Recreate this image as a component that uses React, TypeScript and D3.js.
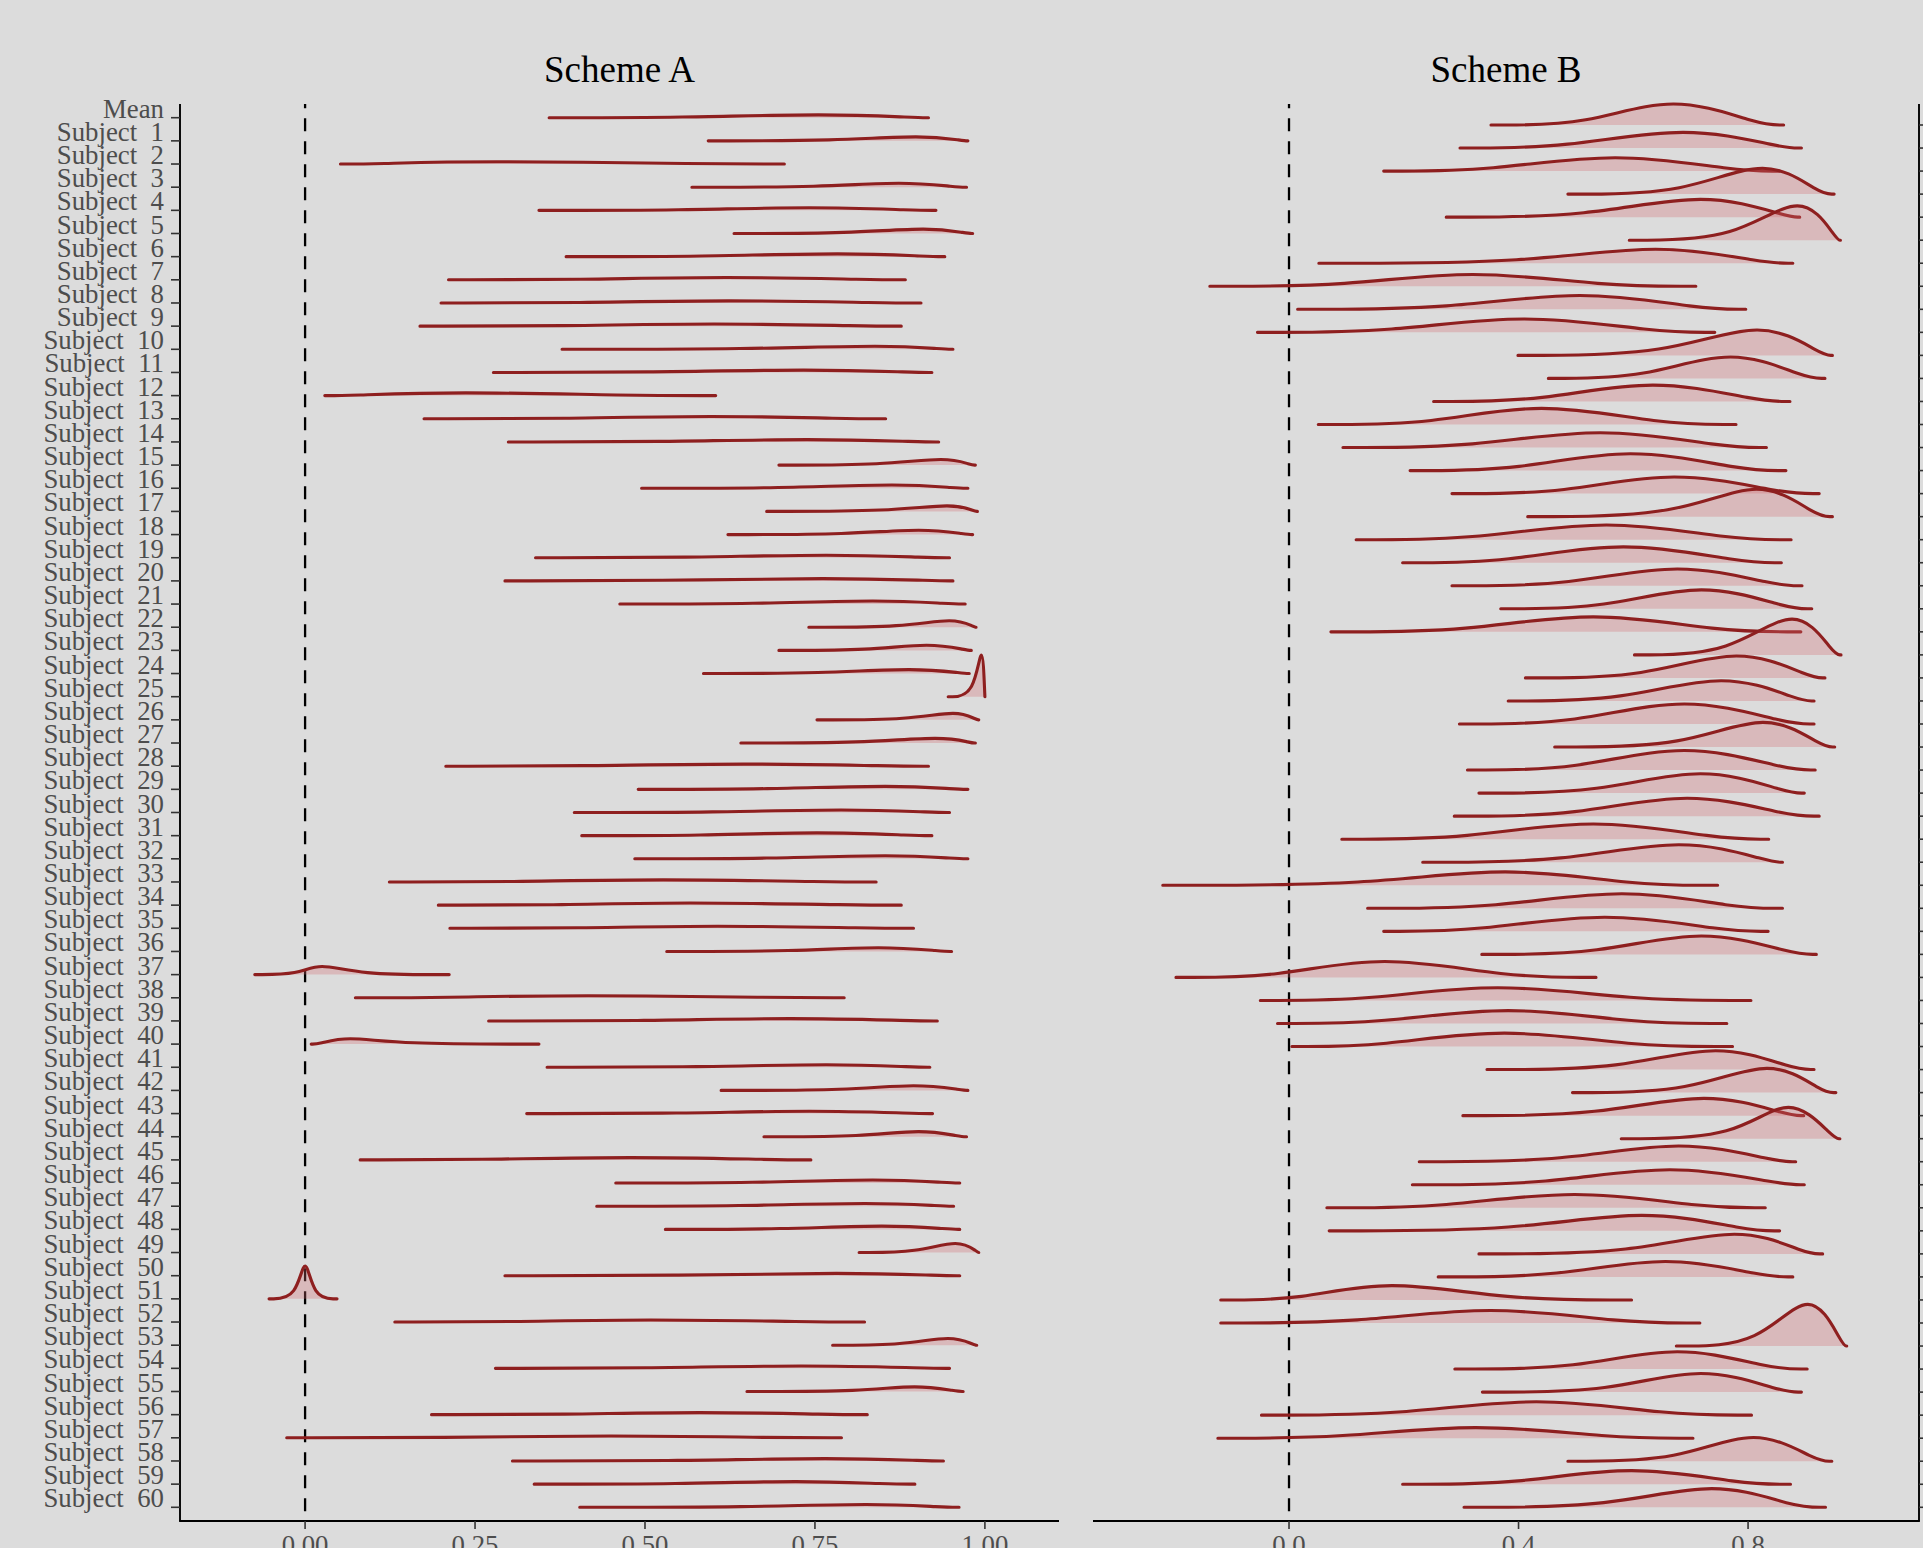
import React from 'react';
import * as d3 from 'd3';

// Row categories (top to bottom)
const rowLabels: string[] = [
  'Mean',
  'Subject  1', 'Subject  2', 'Subject  3', 'Subject  4', 'Subject  5',
  'Subject  6', 'Subject  7', 'Subject  8', 'Subject  9', 'Subject  10',
  'Subject  11', 'Subject  12', 'Subject  13', 'Subject  14', 'Subject  15',
  'Subject  16', 'Subject  17', 'Subject  18', 'Subject  19', 'Subject  20',
  'Subject  21', 'Subject  22', 'Subject  23', 'Subject  24', 'Subject  25',
  'Subject  26', 'Subject  27', 'Subject  28', 'Subject  29', 'Subject  30',
  'Subject  31', 'Subject  32', 'Subject  33', 'Subject  34', 'Subject  35',
  'Subject  36', 'Subject  37', 'Subject  38', 'Subject  39', 'Subject  40',
  'Subject  41', 'Subject  42', 'Subject  43', 'Subject  44', 'Subject  45',
  'Subject  46', 'Subject  47', 'Subject  48', 'Subject  49', 'Subject  50',
  'Subject  51', 'Subject  52', 'Subject  53', 'Subject  54', 'Subject  55',
  'Subject  56', 'Subject  57', 'Subject  58', 'Subject  59', 'Subject  60',
];

const panelTitles: string[] = ['Scheme A', 'Scheme B'];
const ticksA: number[] = [0, 0.25, 0.5, 0.75, 1.0];
const tickLabelsA: string[] = ['0.00', '0.25', '0.50', '0.75', '1.00'];
const ticksB: number[] = [0, 0.4, 0.8];
const tickLabelsB: string[] = ['0.0', '0.4', '0.8'];
const refValue = 0;

// Each ridge: [start, left foot, mode, right foot, end, peak height (in rows)]
const schemeA: number[][] = [
  [0.359, 0.55, 0.77, 0.90, 0.917, 0.12],
  [0.593, 0.78, 0.91, 0.97, 0.975, 0.17],
  [0.052, 0.10, 0.25, 0.60, 0.705, 0.10],
  [0.569, 0.76, 0.88, 0.96, 0.973, 0.17],
  [0.344, 0.55, 0.75, 0.90, 0.928, 0.11],
  [0.631, 0.80, 0.92, 0.975, 0.982, 0.19],
  [0.384, 0.58, 0.80, 0.92, 0.941, 0.12],
  [0.211, 0.40, 0.62, 0.84, 0.883, 0.10],
  [0.200, 0.40, 0.62, 0.86, 0.906, 0.09],
  [0.169, 0.38, 0.60, 0.83, 0.877, 0.09],
  [0.378, 0.65, 0.86, 0.94, 0.953, 0.13],
  [0.277, 0.50, 0.75, 0.90, 0.922, 0.10],
  [0.029, 0.06, 0.22, 0.48, 0.604, 0.12],
  [0.175, 0.38, 0.60, 0.80, 0.854, 0.10],
  [0.299, 0.52, 0.75, 0.91, 0.932, 0.10],
  [0.697, 0.85, 0.945, 0.98, 0.986, 0.24],
  [0.495, 0.70, 0.88, 0.96, 0.975, 0.14],
  [0.679, 0.86, 0.955, 0.985, 0.989, 0.24],
  [0.622, 0.80, 0.91, 0.975, 0.982, 0.19],
  [0.339, 0.56, 0.78, 0.92, 0.948, 0.11],
  [0.294, 0.52, 0.78, 0.93, 0.953, 0.10],
  [0.463, 0.66, 0.85, 0.95, 0.971, 0.13],
  [0.741, 0.88, 0.955, 0.985, 0.987, 0.28],
  [0.697, 0.83, 0.92, 0.975, 0.980, 0.22],
  [0.586, 0.76, 0.90, 0.97, 0.977, 0.17],
  [0.946, 0.985, 0.996, 1.0, 1.0, 1.80],
  [0.753, 0.89, 0.96, 0.988, 0.991, 0.28],
  [0.641, 0.82, 0.94, 0.98, 0.986, 0.20],
  [0.207, 0.40, 0.65, 0.87, 0.917, 0.09],
  [0.490, 0.68, 0.87, 0.96, 0.975, 0.13],
  [0.396, 0.60, 0.80, 0.93, 0.948, 0.11],
  [0.407, 0.58, 0.76, 0.90, 0.922, 0.12],
  [0.485, 0.68, 0.87, 0.96, 0.975, 0.13],
  [0.124, 0.30, 0.52, 0.78, 0.840, 0.09],
  [0.196, 0.38, 0.55, 0.82, 0.877, 0.09],
  [0.213, 0.40, 0.60, 0.84, 0.895, 0.09],
  [0.532, 0.72, 0.85, 0.94, 0.951, 0.16],
  [-0.074, -0.01, 0.02, 0.08, 0.212, 0.35],
  [0.074, 0.20, 0.40, 0.70, 0.793, 0.09],
  [0.270, 0.50, 0.72, 0.90, 0.930, 0.10],
  [0.009, 0.02, 0.06, 0.14, 0.344, 0.23],
  [0.356, 0.58, 0.78, 0.90, 0.919, 0.11],
  [0.612, 0.80, 0.90, 0.97, 0.975, 0.20],
  [0.326, 0.55, 0.75, 0.90, 0.923, 0.10],
  [0.675, 0.82, 0.907, 0.965, 0.973, 0.22],
  [0.081, 0.25, 0.48, 0.70, 0.744, 0.10],
  [0.457, 0.66, 0.85, 0.95, 0.963, 0.13],
  [0.429, 0.64, 0.84, 0.94, 0.954, 0.12],
  [0.530, 0.70, 0.86, 0.95, 0.963, 0.14],
  [0.815, 0.90, 0.962, 0.99, 0.991, 0.39],
  [0.294, 0.55, 0.80, 0.94, 0.963, 0.10],
  [-0.053, -0.012, 0.0, 0.012, 0.047, 1.42],
  [0.132, 0.30, 0.50, 0.75, 0.823, 0.09],
  [0.776, 0.88, 0.952, 0.985, 0.988, 0.29],
  [0.280, 0.50, 0.74, 0.92, 0.948, 0.10],
  [0.650, 0.82, 0.90, 0.96, 0.968, 0.20],
  [0.186, 0.38, 0.58, 0.78, 0.827, 0.09],
  [-0.027, 0.20, 0.45, 0.70, 0.789, 0.08],
  [0.305, 0.55, 0.78, 0.92, 0.939, 0.10],
  [0.337, 0.55, 0.73, 0.86, 0.897, 0.11],
  [0.404, 0.65, 0.84, 0.94, 0.962, 0.12],
];

const schemeB: number[][] = [
  [0.352, 0.52, 0.670, 0.82, 0.862, 0.91],
  [0.298, 0.48, 0.695, 0.86, 0.893, 0.68],
  [0.165, 0.35, 0.570, 0.78, 0.855, 0.58],
  [0.486, 0.69, 0.834, 0.925, 0.950, 1.12],
  [0.274, 0.52, 0.728, 0.87, 0.890, 0.77],
  [0.593, 0.78, 0.895, 0.955, 0.961, 1.49],
  [0.052, 0.42, 0.646, 0.83, 0.878, 0.61],
  [-0.138, 0.10, 0.318, 0.55, 0.709, 0.51],
  [0.015, 0.28, 0.510, 0.72, 0.796, 0.60],
  [-0.055, 0.18, 0.410, 0.64, 0.742, 0.58],
  [0.399, 0.66, 0.826, 0.93, 0.947, 1.10],
  [0.452, 0.62, 0.774, 0.90, 0.934, 0.93],
  [0.252, 0.44, 0.636, 0.82, 0.873, 0.71],
  [0.051, 0.25, 0.435, 0.65, 0.779, 0.70],
  [0.094, 0.32, 0.544, 0.76, 0.832, 0.64],
  [0.211, 0.40, 0.595, 0.79, 0.866, 0.73],
  [0.284, 0.48, 0.672, 0.86, 0.924, 0.72],
  [0.416, 0.68, 0.822, 0.92, 0.947, 1.19],
  [0.117, 0.33, 0.555, 0.77, 0.875, 0.64],
  [0.198, 0.38, 0.582, 0.79, 0.858, 0.69],
  [0.284, 0.49, 0.680, 0.85, 0.894, 0.73],
  [0.369, 0.55, 0.723, 0.87, 0.911, 0.82],
  [0.073, 0.31, 0.531, 0.75, 0.892, 0.65],
  [0.602, 0.77, 0.885, 0.95, 0.962, 1.55],
  [0.412, 0.62, 0.787, 0.91, 0.934, 0.95],
  [0.382, 0.58, 0.762, 0.89, 0.915, 0.88],
  [0.297, 0.50, 0.691, 0.87, 0.915, 0.87],
  [0.463, 0.69, 0.834, 0.93, 0.951, 1.07],
  [0.311, 0.50, 0.691, 0.87, 0.917, 0.85],
  [0.331, 0.54, 0.723, 0.87, 0.898, 0.84],
  [0.288, 0.50, 0.698, 0.87, 0.924, 0.78],
  [0.092, 0.31, 0.531, 0.75, 0.836, 0.66],
  [0.233, 0.48, 0.689, 0.84, 0.860, 0.76],
  [-0.220, 0.14, 0.380, 0.60, 0.747, 0.58],
  [0.137, 0.36, 0.585, 0.78, 0.860, 0.63],
  [0.165, 0.33, 0.553, 0.76, 0.835, 0.61],
  [0.336, 0.54, 0.723, 0.88, 0.919, 0.80],
  [-0.197, -0.02, 0.160, 0.38, 0.535, 0.69],
  [-0.050, 0.14, 0.361, 0.60, 0.805, 0.55],
  [-0.020, 0.16, 0.383, 0.60, 0.763, 0.56],
  [0.005, 0.16, 0.373, 0.60, 0.773, 0.58],
  [0.345, 0.58, 0.750, 0.88, 0.915, 0.82],
  [0.494, 0.70, 0.842, 0.93, 0.953, 1.05],
  [0.303, 0.54, 0.732, 0.87, 0.897, 0.75],
  [0.579, 0.78, 0.873, 0.95, 0.960, 1.36],
  [0.227, 0.48, 0.686, 0.85, 0.883, 0.68],
  [0.215, 0.45, 0.668, 0.86, 0.898, 0.65],
  [0.066, 0.27, 0.499, 0.72, 0.830, 0.58],
  [0.070, 0.40, 0.622, 0.80, 0.855, 0.67],
  [0.331, 0.60, 0.789, 0.90, 0.930, 0.85],
  [0.260, 0.47, 0.659, 0.83, 0.878, 0.67],
  [-0.119, 0.02, 0.169, 0.38, 0.597, 0.62],
  [-0.119, 0.12, 0.352, 0.58, 0.716, 0.54],
  [0.675, 0.82, 0.910, 0.965, 0.972, 1.81],
  [0.289, 0.50, 0.680, 0.84, 0.903, 0.75],
  [0.337, 0.56, 0.721, 0.86, 0.893, 0.81],
  [-0.048, 0.20, 0.432, 0.66, 0.806, 0.58],
  [-0.124, 0.09, 0.326, 0.56, 0.704, 0.46],
  [0.486, 0.68, 0.814, 0.92, 0.946, 1.03],
  [0.198, 0.40, 0.598, 0.79, 0.874, 0.59],
  [0.305, 0.56, 0.745, 0.88, 0.935, 0.81],
];

const W = 1923;
const H = 1548;
const BG = '#DCDCDC';
const LINE = '#8E1F1F';
const FILL = 'rgba(213,107,113,0.30)';
const FONT = '"Liberation Serif", "Times New Roman", serif';
const TEXT_GREY = '#4D4D4D';

const PLOT_TOP = 104;
const PLOT_BOTTOM = 1521;

type PanelProps = {
  data: number[][];
  x: d3.ScaleLinear<number, number>;
  y: d3.ScaleLinear<number, number>;
  rowH: number;
};

function Ridges({ data, x, y, rowH }: PanelProps) {
  return (
    <g>
      {data.map((r, i) => {
        const [lo, fL, m, fR, hi, h] = r;
        const base = y(i);
        const pts: [number, number][] = [
          [lo, 0], [fL, 0], [m, 1.5 * h], [fR, 0], [hi, 0],
        ];
        const area = d3.area<[number, number]>()
          .x(d => x(d[0]))
          .y0(base)
          .y1(d => base - d[1] * rowH)
          .curve(d3.curveBasis);
        const line = d3.line<[number, number]>()
          .x(d => x(d[0]))
          .y(d => base - d[1] * rowH)
          .curve(d3.curveBasis);
        return (
          <g key={i}>
            <path d={area(pts) || ''} fill={FILL} stroke="none" />
            <path d={line(pts) || ''} fill="none" stroke={LINE} strokeWidth={3.1}
              strokeLinecap="round" strokeLinejoin="round" />
          </g>
        );
      })}
    </g>
  );
}

export default function App() {
  const xA = d3.scaleLinear().domain([-0.184, 1.109]).range([180, 1059]);
  const xB = d3.scaleLinear().domain([-0.3416, 1.0979]).range([1093, 1919]);
  const yA = d3.scaleLinear().domain([0, 60]).range([117.7, 1507.3]);
  const yB = d3.scaleLinear().domain([0, 60]).range([125, 1507.3]);
  const rowHA = (yA(60) - yA(0)) / 60;
  const rowHB = (yB(60) - yB(0)) / 60;

  return (
    <svg width={W} height={H} style={{ position: 'absolute', left: 0, top: 0, display: 'block' }}
      fontFamily={FONT}>
      <rect x={0} y={0} width={W} height={H} fill={BG} />

      {/* Titles */}
      <text x={(xA.range()[0] + xA.range()[1]) / 2} y={81.5} textAnchor="middle" fontSize={37} fill="#000">{panelTitles[0]}</text>
      <text x={(xB.range()[0] + xB.range()[1]) / 2} y={81.5} textAnchor="middle" fontSize={37} fill="#000">{panelTitles[1]}</text>

      {/* Reference lines */}
      <line x1={xA(refValue)} x2={xA(refValue)} y1={PLOT_TOP} y2={PLOT_BOTTOM} stroke="#000" strokeWidth={2.3} strokeDasharray="13 10" strokeDashoffset={8.7} />
      <line x1={xB(refValue)} x2={xB(refValue)} y1={PLOT_TOP} y2={PLOT_BOTTOM} stroke="#000" strokeWidth={2.3} strokeDasharray="13 10" strokeDashoffset={8.7} />

      <Ridges data={schemeA} x={xA} y={yA} rowH={rowHA} />
      <Ridges data={schemeB} x={xB} y={yB} rowH={rowHB} />

      {/* Panel A axes */}
      <line x1={180} x2={180} y1={PLOT_TOP} y2={PLOT_BOTTOM} stroke="#000" strokeWidth={1.9} />
      <line x1={179.1} x2={1059} y1={PLOT_BOTTOM} y2={PLOT_BOTTOM} stroke="#000" strokeWidth={1.9} />
      {rowLabels.map((lab, i) => (
        <g key={'la' + i}>
          <line x1={171} x2={180} y1={yA(i)} y2={yA(i)} stroke="#333" strokeWidth={1.6} />
          <text x={164} y={yA(i)} textAnchor="end" fontSize={26.8} fill={TEXT_GREY}
            style={{ whiteSpace: 'pre' }} xmlSpace="preserve">{lab}</text>
        </g>
      ))}
      {ticksA.map((t, i) => (
        <g key={'ta' + i}>
          <line x1={xA(t)} x2={xA(t)} y1={PLOT_BOTTOM} y2={PLOT_BOTTOM + 8} stroke="#333" strokeWidth={1.6} />
          <text x={xA(t)} y={1554} textAnchor="middle" fontSize={26.8} fill={TEXT_GREY}>{tickLabelsA[i]}</text>
        </g>
      ))}

      {/* Panel B axes */}
      <line x1={1919} x2={1919} y1={PLOT_TOP} y2={PLOT_BOTTOM} stroke="#000" strokeWidth={1.9} />
      <line x1={1093} x2={1919.9} y1={PLOT_BOTTOM} y2={PLOT_BOTTOM} stroke="#000" strokeWidth={1.9} />
      {rowLabels.map((lab, i) => (
        <line key={'lb' + i} x1={1919} x2={1928} y1={yB(i)} y2={yB(i)} stroke="#333" strokeWidth={1.6} />
      ))}
      {ticksB.map((t, i) => (
        <g key={'tb' + i}>
          <line x1={xB(t)} x2={xB(t)} y1={PLOT_BOTTOM} y2={PLOT_BOTTOM + 8} stroke="#333" strokeWidth={1.6} />
          <text x={xB(t)} y={1554} textAnchor="middle" fontSize={26.8} fill={TEXT_GREY}>{tickLabelsB[i]}</text>
        </g>
      ))}
    </svg>
  );
}
